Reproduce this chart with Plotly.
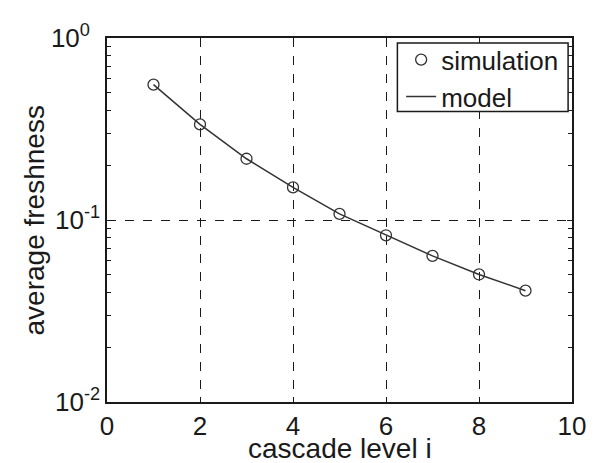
import plotly.graph_objects as go

levels = [1, 2, 3, 4, 5, 6, 7, 8, 9]
simulation = [0.554, 0.335, 0.217, 0.151, 0.108, 0.0824, 0.0635, 0.0502, 0.0409]
model = [0.554, 0.335, 0.217, 0.151, 0.108, 0.0824, 0.0635, 0.0502, 0.0409]
x_ticks = [0, 2, 4, 6, 8, 10]
y_ticks = [1, 0.1, 0.01]
y_ticktext = ["10<sup>0\u00a0\u00a0</sup>", "10<sup>-1</sup>", "10<sup>-2</sup>"]
y_minor = [0.02, 0.03, 0.04, 0.05, 0.06, 0.07, 0.08, 0.09,
           0.2, 0.3, 0.4, 0.5, 0.6, 0.7, 0.8, 0.9]
x_title = "cascade level i"
y_title = "average freshness"

ink = "#1a1a1a"
font = "Liberation Sans, Arial, Helvetica, sans-serif"

fig = go.Figure()
fig.add_trace(go.Scatter(
    x=levels, y=simulation, mode="markers", name="simulation",
    marker=dict(symbol="circle-open", size=11, color="#333333", line=dict(width=1.3)),
))
fig.add_trace(go.Scatter(
    x=levels, y=model, mode="lines", name="model",
    line=dict(color="#333333", width=1.5),
))

axis_common = dict(
    showline=True, linecolor=ink, linewidth=1.5, mirror="ticks",
    ticks="inside", tickcolor=ink, ticklen=5,
    showgrid=True, gridcolor=ink, griddash="dash", gridwidth=1,
    zeroline=False,
    tickfont=dict(family=font, size=26, color=ink),
)

fig.update_xaxes(range=[0, 10], tickvals=x_ticks, ticklabelstandoff=0, **axis_common)
fig.update_yaxes(
    type="log", range=[-2, 0], tickvals=y_ticks, ticktext=y_ticktext,
    ticklabelstandoff=0,
    minor=dict(tickvals=y_minor, ticks="inside", ticklen=4, tickcolor=ink, showgrid=False),
    **axis_common,
)

fig.add_annotation(
    text=x_title, xref="paper", yref="paper", x=0.5, y=-0.1263,
    xanchor="center", yanchor="middle", showarrow=False, height=28,
    font=dict(family=font, size=28, color=ink),
)
fig.add_annotation(
    text=y_title, xref="paper", yref="paper", x=-0.156, y=0.5,
    xanchor="center", yanchor="middle", showarrow=False, textangle=-90,
    font=dict(family=font, size=28, color=ink),
)

# legend frame (the legend itself is transparent so its rows can sit tight)
fig.add_shape(
    type="rect", xref="paper", yref="paper",
    x0=0.6245, x1=0.9916, y0=0.7984, y1=0.9866,
    line=dict(color=ink, width=1.5), fillcolor="white", layer="above",
)

fig.update_layout(
    width=590, height=455,
    margin=dict(l=99, r=17, t=22, b=61),
    paper_bgcolor="white", plot_bgcolor="white",
    showlegend=True,
    legend=dict(
        x=0.9831, y=1.005, xanchor="right", yanchor="top",
        bgcolor="rgba(0,0,0,0)", borderwidth=0,
        font=dict(family=font, size=26, color=ink),
        itemwidth=30, tracegroupgap=0,
    ),
)

fig.write_html("out.html")
